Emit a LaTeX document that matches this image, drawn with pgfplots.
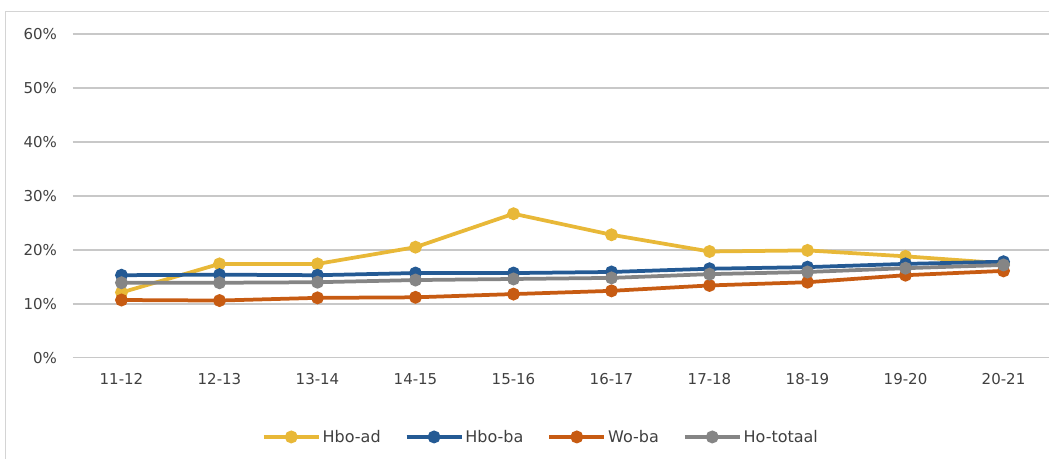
\documentclass[border=0pt]{standalone}
\usepackage{pgfplots}
\pgfplotsset{compat=1.18}
\usepackage{fontspec}
\setmainfont{DejaVu Sans}
\definecolor{cad}{HTML}{E8B838}
\definecolor{cba}{HTML}{245A94}
\definecolor{cwo}{HTML}{C75B12}
\definecolor{cho}{HTML}{858585}
\definecolor{gridc}{HTML}{C8C8C8}
\definecolor{txt}{HTML}{404040}
\definecolor{framec}{HTML}{D4D4D4}
\begin{document}
\begin{tikzpicture}[x=1pt,y=1pt]
\draw[framec, line width=1pt] (5.7,-20) rectangle (1080,446);
\begin{axis}[
  at={(72.5pt,100.3pt)}, anchor=south west,
  scale only axis, width=980pt, height=323.5pt,
  xmin=-0.5, xmax=9.5, ymin=0, ymax=60,
  xtick={0,...,9},
  xticklabels={11-12,12-13,13-14,14-15,15-16,16-17,17-18,18-19,19-20,20-21},
  ytick={0,10,20,30,40,50,60},
  yticklabels={0\%,10\%,20\%,30\%,40\%,50\%,60\%},
  axis line style={draw=none},
  major tick length=0pt,
  ymajorgrids, grid style={gridc, line width=1.5pt},
  ticklabel style={font=\fontsize{15}{18}\selectfont, text=txt},
  xticklabel style={yshift=-12pt},
  yticklabel style={xshift=-12pt},
  clip=false,
  legend columns=4,
  legend style={draw=none, at={(axis description cs:0.478,-0.245)}, anchor=center,
    font=\fontsize{16}{19}\selectfont, text=txt,
    /tikz/every even column/.append style={column sep=22pt},
    nodes={inner sep=2pt}},
  legend image code/.code={\draw[#1, mark repeat=2, mark phase=2] plot coordinates {(0pt,0pt) (27.5pt,0pt) (55pt,0pt)};},
  every axis plot/.append style={line width=3.75pt, mark=*, mark size=4.5pt},
]
\addplot[cad, mark options={solid, fill=cad, draw=none}] coordinates {(0,12.1) (1,17.4) (2,17.4) (3,20.5) (4,26.7) (5,22.8) (6,19.7) (7,19.9) (8,18.8) (9,17.5)};
\addlegendentry{Hbo-ad}
\addplot[cba, mark options={solid, fill=cba, draw=none}] coordinates {(0,15.3) (1,15.4) (2,15.3) (3,15.7) (4,15.7) (5,15.9) (6,16.5) (7,16.8) (8,17.4) (9,17.8)};
\addlegendentry{Hbo-ba}
\addplot[cwo, mark options={solid, fill=cwo, draw=none}] coordinates {(0,10.7) (1,10.6) (2,11.1) (3,11.2) (4,11.8) (5,12.4) (6,13.4) (7,14.0) (8,15.3) (9,16.1)};
\addlegendentry{Wo-ba}
\addplot[cho, mark options={solid, fill=cho, draw=none}] coordinates {(0,13.9) (1,13.9) (2,14.0) (3,14.4) (4,14.6) (5,14.8) (6,15.5) (7,15.9) (8,16.6) (9,17.2)};
\addlegendentry{Ho-totaal}
\end{axis}
\pgfresetboundingbox
\useasboundingbox (0,0) rectangle (1049,458);
\end{tikzpicture}
\end{document}
